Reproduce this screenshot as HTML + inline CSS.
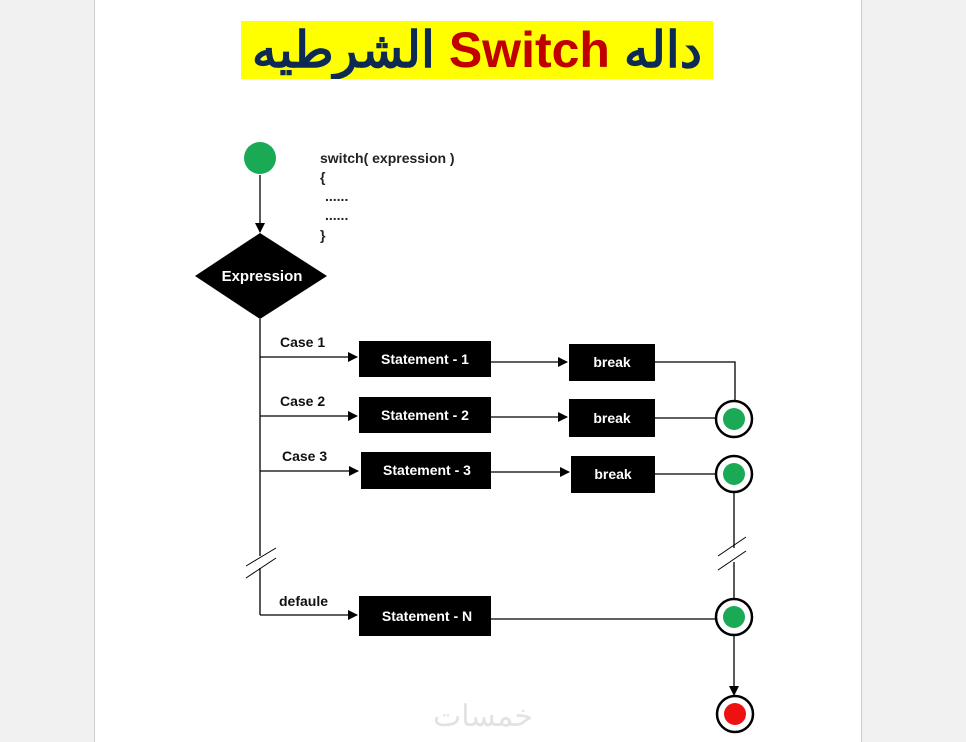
<!DOCTYPE html>
<html><head><meta charset="utf-8"><style>
body{margin:0;width:966px;height:742px;background:#f1f1f1;overflow:hidden;position:relative;font-family:"Liberation Sans",sans-serif}
.page{position:absolute;left:94px;top:0;width:766px;height:742px;background:#fff;border-left:1px solid #ccc;border-right:1px solid #ccc}
.title{position:absolute;left:241px;top:21px;width:472px;height:58px;background:#ffff00;text-align:center;font:bold 50px/58px "Liberation Sans","Noto Sans CJK SC",sans-serif;color:#0d2a55;direction:rtl;white-space:nowrap;overflow:hidden}
.title span{color:#c00000}
</style></head><body>
<div class="page"></div>
<div class="title">داله <span>Switch</span> الشرطيه</div>
<svg width="966" height="742" style="position:absolute;left:0;top:0" font-family="Liberation Sans, sans-serif">
<defs><marker id="a" markerWidth="10" markerHeight="10" refX="9" refY="5" orient="auto" markerUnits="userSpaceOnUse"><path d="M0,0 L10,5 L0,10z" fill="#000"/></marker></defs>
<circle cx="260" cy="158" r="16" fill="#1aaa55"/>
<line x1="260" y1="175" x2="260" y2="232" stroke="#000" stroke-width="1.3" marker-end="url(#a)"/>
<polygon points="260,233 327,276 260,319 195,276" fill="#000"/>
<text x="262" y="281" fill="#fff" font-size="15" font-weight="bold" text-anchor="middle">Expression</text>
<g font-size="14" font-weight="bold" fill="#222">
<text x="320" y="163">switch( expression )</text>
<text x="320" y="182">{</text>
<text x="325" y="201">......</text>
<text x="325" y="220">......</text>
<text x="320" y="240">}</text>
</g>
<g stroke="#000" stroke-width="1.3" fill="none">
<path d="M260,319 V556 M260,568 V615"/>
<path d="M246,566 L276,548 M246,578 L276,558" stroke-width="1"/>
<line x1="260" y1="357" x2="357" y2="357" marker-end="url(#a)"/>
<line x1="260" y1="416" x2="357" y2="416" marker-end="url(#a)"/>
<line x1="260" y1="471" x2="358" y2="471" marker-end="url(#a)"/>
<line x1="260" y1="615" x2="357" y2="615" marker-end="url(#a)"/>
<line x1="491" y1="362" x2="567" y2="362" marker-end="url(#a)"/>
<line x1="491" y1="417" x2="567" y2="417" marker-end="url(#a)"/>
<line x1="491" y1="472" x2="569" y2="472" marker-end="url(#a)"/>
<path d="M655,362 H735 V400 M655,418 H716 M655,474 H716 M491,619 H716"/>
<path d="M734,492 V548 M734,562 V599"/>
<path d="M718,556 L746,537 M718,570 L746,551" stroke-width="1"/>
<line x1="734" y1="636" x2="734" y2="695" marker-end="url(#a)"/>
</g>
<g font-size="14" font-weight="bold" fill="#111">
<text x="280" y="347">Case 1</text><text x="280" y="406">Case 2</text><text x="282" y="461">Case 3</text><text x="279" y="606">defaule</text>
</g>
<g fill="#000"><rect x="359" y="341" width="132" height="36"/><rect x="359" y="397" width="132" height="36"/><rect x="361" y="452" width="130" height="37"/><rect x="359" y="596" width="132" height="40"/>
<rect x="569" y="344" width="86" height="37"/><rect x="569" y="399" width="86" height="38"/><rect x="571" y="456" width="84" height="37"/></g>
<g fill="#fff" font-size="14" font-weight="bold" text-anchor="middle">
<text x="425" y="364">Statement - 1</text><text x="425" y="420">Statement - 2</text><text x="427" y="475">Statement - 3</text><text x="427" y="621">Statement - N</text>
<text x="612" y="367">break</text><text x="612" y="423">break</text><text x="613" y="479">break</text></g>
<g stroke="#000" stroke-width="2.5" fill="#fff"><circle cx="734" cy="419" r="18"/><circle cx="734" cy="474" r="18"/><circle cx="734" cy="617" r="18"/><circle cx="735" cy="714" r="18"/></g>
<g fill="#1aaa55"><circle cx="734" cy="419" r="11"/><circle cx="734" cy="474" r="11"/><circle cx="734" cy="617" r="11"/></g>
<circle cx="735" cy="714" r="11" fill="#ee1111"/>
<text x="483" y="726" font-size="30" fill="#e2e2e2" text-anchor="middle" font-family="Liberation Sans, Noto Sans CJK SC, sans-serif">خمسات</text>
</svg>
</body></html>
